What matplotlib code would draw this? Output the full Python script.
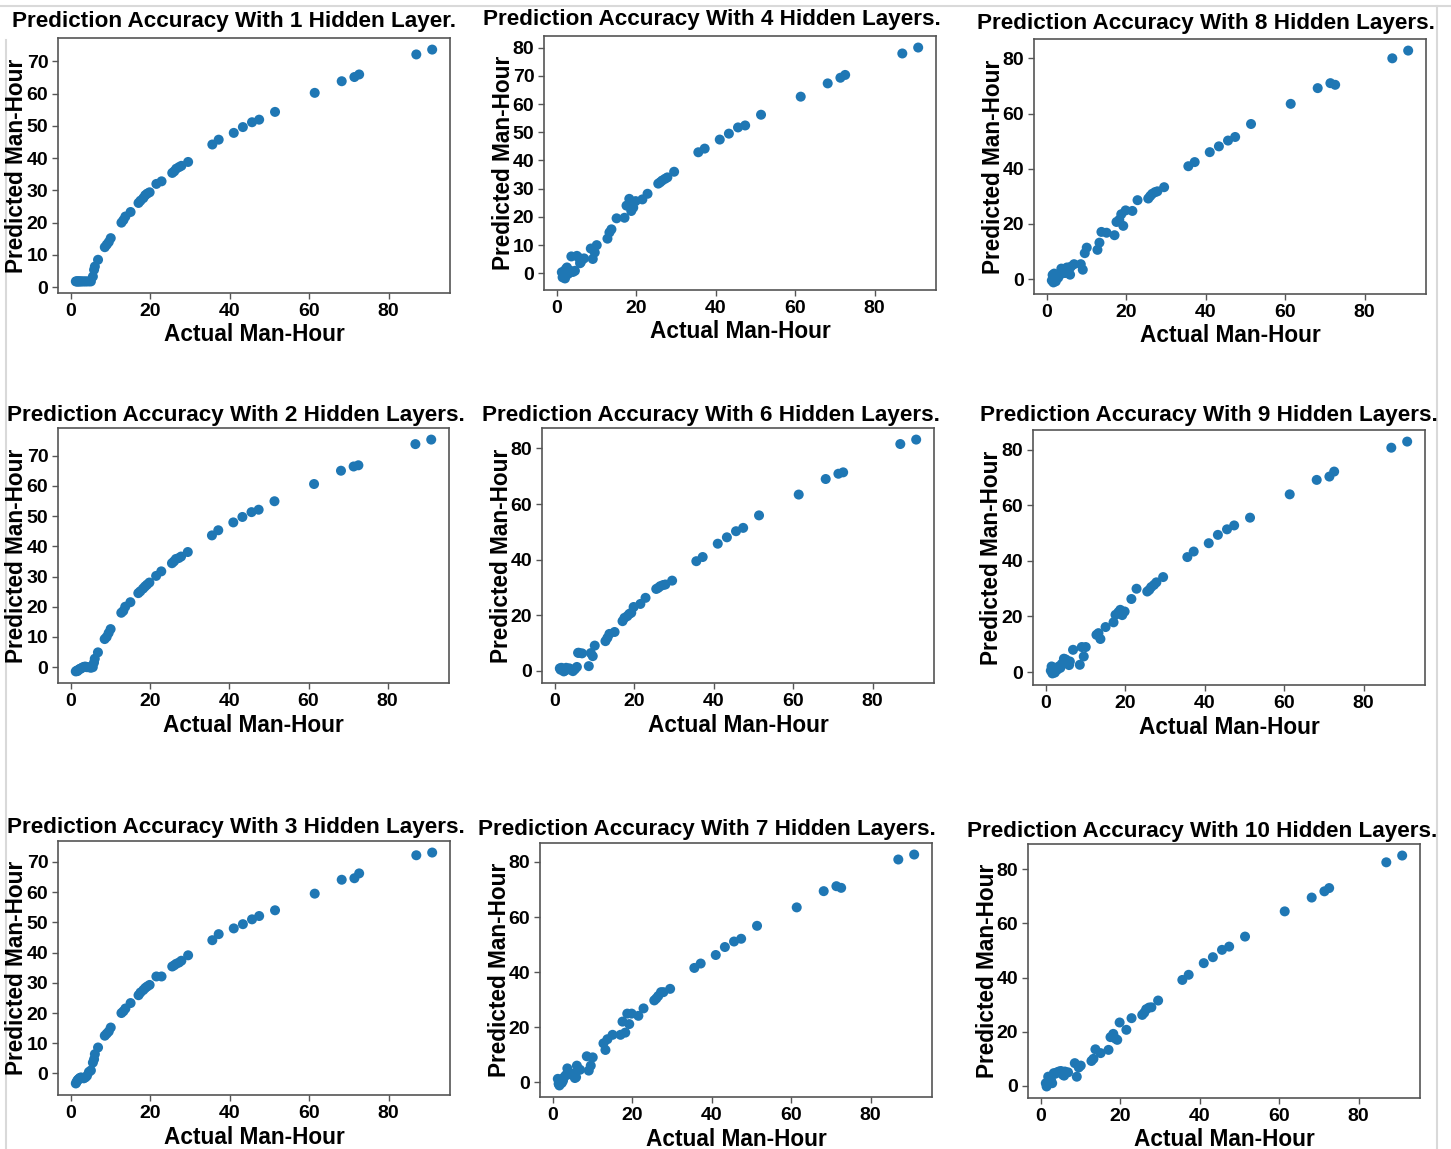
import matplotlib
matplotlib.use("Agg")
import matplotlib.pyplot as plt
from matplotlib.lines import Line2D

plt.rcParams['font.family'] = ['Liberation Sans', 'DejaVu Sans']
plt.rcParams['font.weight'] = 'bold'

# Shared actual man-hour values (test set)
actual = [1.2, 1.4, 1.6, 1.8, 2.0, 2.2, 2.5, 2.8, 3.2, 3.6, 4.0, 4.5, 5.0, 5.5, 5.8, 6.0, 6.8, 8.5, 9.0, 9.5, 10.0,
          12.7, 13.2, 13.7, 15.0, 17.0, 17.5, 18.2, 18.7, 19.2, 19.8, 21.5, 22.8, 25.5, 26.0, 26.5, 27.2, 27.8, 29.5,
          35.6, 37.2, 41.0, 43.3, 45.6, 47.4, 51.4, 61.4, 68.2, 71.4, 72.6, 87.0, 91.0]

pred_1 = [1.8, 1.8, 1.8, 1.8, 1.8, 1.8, 1.8, 1.8, 1.8, 1.8, 1.8, 1.8, 1.8, 3.3, 5.4, 6.4, 8.5, 12.4, 13.2, 14.0, 15.2,
          20.0, 20.8, 21.9, 23.3, 26.1, 26.8, 27.6, 28.5, 29.0, 29.4, 32.0, 32.8, 35.4, 35.9, 36.7, 37.2, 37.6, 38.8,
          44.2, 45.7, 47.8, 49.6, 51.1, 51.9, 54.3, 60.2, 63.8, 65.1, 65.9, 72.1, 73.6]

pred_2 = [-1.4, -1.2, -1.3, -1.0, -0.8, -0.6, -0.4, -0.2, 0.1, 0.2, 0.0, 0.0, -0.2, 0.0, 1.5, 2.8, 4.9, 9.3, 10.0, 11.3, 12.6,
          18.0, 18.6, 20.0, 21.5, 24.5, 25.1, 26.0, 26.7, 27.3, 28.0, 30.2, 31.7, 34.4, 35.0, 35.8, 36.1, 36.6, 38.1,
          43.6, 45.3, 47.9, 49.7, 51.3, 52.1, 54.9, 60.6, 65.0, 66.4, 66.8, 73.8, 75.3]

pred_3 = [-3.3, -2.8, -2.3, -2.0, -1.8, -1.5, -1.3, -1.5, -1.6, -1.3, -0.8, 0.5, 1.0, 3.6, 4.7, 6.4, 8.6, 12.5, 13.2, 13.9, 15.2,
          20.0, 20.6, 21.5, 23.3, 25.9, 26.8, 27.6, 28.3, 28.8, 29.3, 32.1, 32.1, 35.4, 35.8, 36.3, 36.7, 37.3, 39.1,
          44.1, 46.1, 48.0, 49.4, 51.0, 52.1, 54.0, 59.5, 64.1, 64.6, 66.2, 72.2, 73.1]

pred_4 = [0.4, -1.4, -0.6, 0.8, -1.8, 1.5, 2.1, -0.2, 1.0, 6.0, 0.5, 0.9, 6.2, 5.5, 3.6, 4.0, 5.3, 8.8, 5.1, 7.4, 10.0,
          12.3, 14.5, 15.6, 19.5, 19.7, 24.0, 26.4, 22.1, 23.3, 25.6, 26.2, 28.2, 31.8, 32.3, 32.9, 33.5, 34.0, 36.0,
          42.9, 44.2, 47.4, 49.5, 51.7, 52.4, 56.2, 62.6, 67.3, 69.3, 70.3, 77.9, 80.0]

pred_6 = [0.8, 0.3, 1.0, 0.5, 0.2, -0.3, 0.0, 1.0, 0.5, 0.8, 0.3, -0.2, 0.5, 1.3, 6.4, 6.4, 6.2, 1.6, 6.3, 5.2, 9.0,
          10.6, 11.8, 13.2, 13.9, 17.8, 19.0, 19.6, 20.4, 20.8, 22.9, 24.0, 26.2, 29.4, 29.8, 30.4, 30.8, 31.0, 32.4,
          39.4, 40.9, 45.7, 48.0, 50.2, 51.4, 55.9, 63.4, 69.0, 70.9, 71.4, 81.6, 83.2]

pred_7 = [1.2, -0.6, -1.2, 0.5, 1.0, -0.3, 0.5, 1.8, 2.5, 5.0, 3.5, 2.8, 3.0, 1.5, 1.8, 6.0, 4.5, 9.4, 4.2, 6.0, 9.0,
          14.1, 11.7, 15.6, 17.2, 17.2, 22.0, 18.0, 24.9, 21.1, 24.9, 24.1, 26.8, 29.7, 30.4, 31.3, 32.7, 32.7, 33.9,
          41.5, 43.1, 46.2, 49.1, 51.1, 52.1, 56.8, 63.5, 69.4, 71.2, 70.6, 80.9, 82.7]

pred_8 = [-0.5, 1.5, -1.2, 2.0, 0.3, -0.8, 1.0, 0.5, 1.5, 3.8, 3.0, 2.2, 4.2, 3.5, 1.6, 4.5, 5.4, 5.4, 3.4, 9.4, 11.4,
          10.6, 13.2, 17.1, 16.8, 15.9, 20.7, 21.5, 23.5, 19.3, 24.9, 24.7, 28.6, 29.2, 30.1, 30.9, 31.5, 31.8, 33.3,
          40.9, 42.4, 46.0, 48.1, 50.2, 51.5, 56.2, 63.5, 69.2, 71.0, 70.4, 80.0, 82.8]

pred_9 = [0.5, 2.0, -0.5, 0.3, 1.5, -0.2, 1.0, 0.8, 2.0, 1.5, 3.0, 4.8, 4.5, 3.5, 2.5, 3.8, 8.0, 2.6, 9.0, 5.6, 9.0,
          13.4, 14.0, 11.9, 16.2, 17.9, 20.6, 21.5, 22.4, 20.5, 21.8, 26.3, 30.0, 29.0, 29.6, 30.6, 31.4, 32.3, 34.2,
          41.4, 43.4, 46.4, 49.4, 51.4, 52.8, 55.6, 64.0, 69.2, 70.4, 72.2, 80.8, 83.0]

pred_10 = [1.0, -0.2, 0.5, 3.4, 1.5, 2.0, 2.2, 1.0, 4.7, 4.5, 5.0, 5.3, 5.5, 4.1, 3.8, 5.3, 5.0, 8.4, 3.4, 6.8, 7.5,
           9.2, 10.0, 13.5, 12.1, 13.3, 18.0, 19.2, 17.5, 17.0, 23.4, 20.7, 25.0, 26.2, 27.0, 28.3, 28.9, 29.0, 31.5,
           39.1, 41.0, 45.3, 47.5, 50.2, 51.4, 55.1, 64.4, 69.5, 71.8, 73.0, 82.5, 85.0]

x_ticks = [0, 20, 40, 60, 80]

W, H = 1451, 1149
fig = plt.figure(figsize=(W / 100, H / 100), dpi=100)

# (title, predictions, axes box l,t,r,b in px, title left x, title center y, y ticks)
panels = [
    ("Prediction Accuracy With 1 Hidden Layer.", pred_1, (58, 38, 450, 293), 12, 21, list(range(0, 71, 10))),
    ("Prediction Accuracy With 4 Hidden Layers.", pred_4, (544, 36, 936, 290), 483, 20, list(range(0, 81, 10))),
    ("Prediction Accuracy With 8 Hidden Layers.", pred_8, (1034, 39, 1426, 294), 977, 23, list(range(0, 81, 20))),
    ("Prediction Accuracy With 2 Hidden Layers.", pred_2, (58, 428, 449, 683), 7, 415, list(range(0, 71, 10))),
    ("Prediction Accuracy With 6 Hidden Layers.", pred_6, (542, 428, 934, 683), 482, 415, list(range(0, 81, 20))),
    ("Prediction Accuracy With 9 Hidden Layers.", pred_9, (1033, 430, 1425, 685), 980, 416, list(range(0, 81, 20))),
    ("Prediction Accuracy With 3 Hidden Layers.", pred_3, (58, 841, 450, 1095), 7, 827, list(range(0, 71, 10))),
    ("Prediction Accuracy With 7 Hidden Layers.", pred_7, (540, 843, 932, 1097), 478, 830, list(range(0, 81, 20))),
    ("Prediction Accuracy With 10 Hidden Layers.", pred_10, (1028, 844, 1420, 1098), 967, 832, list(range(0, 81, 20))),
]

spine_col = '#555555'
for title, pred, (l, t, r, b), tx, ty, yt in panels:
    ax = fig.add_axes([l / W, 1 - b / H, (r - l) / W, (b - t) / H])
    ax.scatter(actual, pred, s=52, color='#1f77b4', edgecolors='none')
    ax.set_xticks(x_ticks)
    ax.set_yticks(yt)
    ax.tick_params(labelsize=14, width=1.0, length=4, color=spine_col, pad=3)
    for lab in ax.get_xticklabels() + ax.get_yticklabels():
        lab.set_fontweight('bold')
    for sp in ax.spines.values():
        sp.set_color(spine_col)
        sp.set_linewidth(1.2)
    fig.text(tx / W, 1 - ty / H, title, ha='left', va='center', fontsize=16.2, fontweight='bold')
    fig.text(((l + r) / 2) / W, 1 - (b + 42) / H, "Actual Man-Hour", ha='center', va='center',
             fontsize=16.3, fontweight='bold')
    fig.text((l - 41) / W, 1 - ((t + b) / 2) / H, "Predicted Man-Hour", ha='center', va='center',
             rotation=90, fontsize=16.3, fontweight='bold')

# light screenshot border lines
border = '#d9d9d9'
fig.add_artist(Line2D([0, 1], [1 - 6 / H, 1 - 6 / H], color=border, lw=1.5, transform=fig.transFigure))
fig.add_artist(Line2D([6 / W, 6 / W], [0, 1 - 40 / H], color=border, lw=1.5, transform=fig.transFigure))
fig.add_artist(Line2D([1437 / W, 1437 / W], [0, 1 - 6 / H], color=border, lw=1.5, transform=fig.transFigure))

fig.savefig("out.png", dpi=100, facecolor='white')
